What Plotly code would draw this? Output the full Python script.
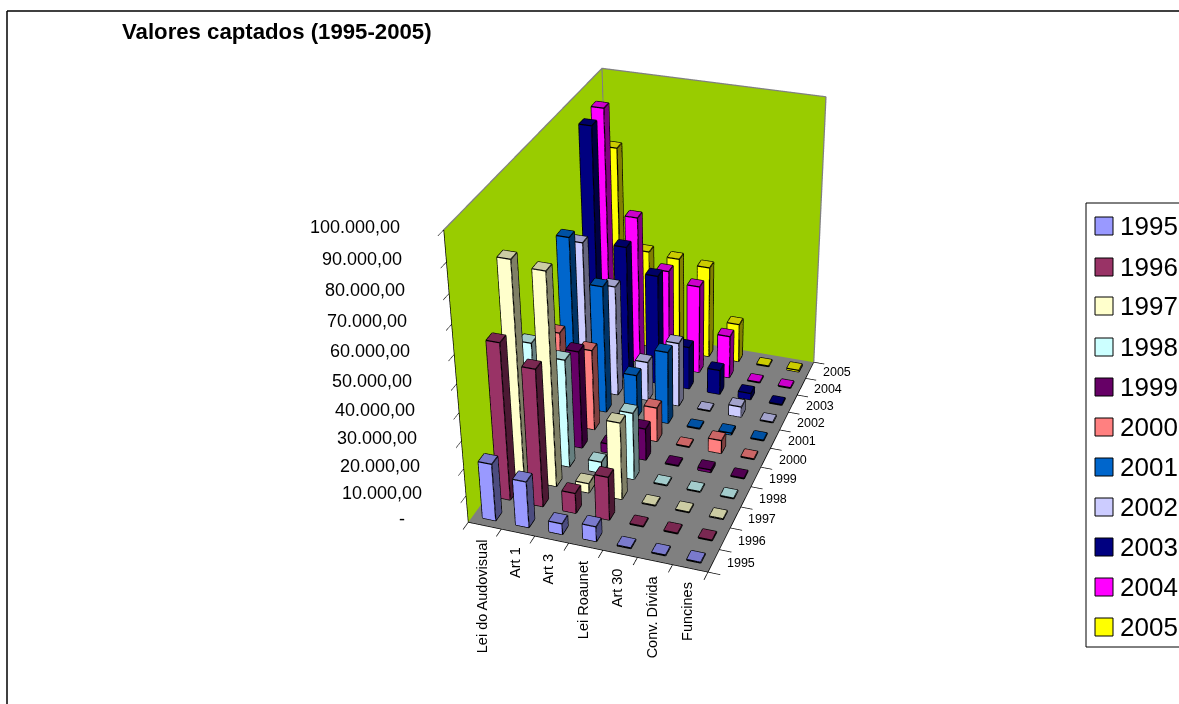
import plotly.graph_objects as go

categories = ["Lei do Audovisual", "Art 1", "Art 3", "Lei Roaunet", "Art 30", "Conv. Dívida", "Funcines"]
v1995 = [21000, 17000, 4000, 5500, 0, 0, 0]
v1996 = [57000, 50000, 7500, 16000, 0, 0, 0]
v1997 = [79000, 77000, 3500, 28500, 0, 0, 0]
v1998 = [44000, 40000, 4200, 25000, 0, 0, 0]
v1999 = [30000, 36500, 3500, 12000, 0, 1000, 0]
v2000 = [35000, 30500, 5000, 13000, 0, 5000, 0]
v2001 = [64000, 48000, 16500, 27500, 0, 700, 0]
v2002 = [56500, 42000, 15000, 24500, 0, 4000, 0]
v2003 = [93000, 51000, 42000, 16500, 9500, 2500, 0]
v2004 = [94500, 56500, 38000, 34000, 16500, 0, 0]
v2005 = [75500, 38000, 37000, 35500, 15000, 0, 600]
years = ["1995","1996","1997","1998","1999","2000","2001","2002","2003","2004","2005"]
colors = ["#9999FF","#993366","#FFFFCC","#CCFFFF","#660066","#FF8080","#0066CC","#CCCCFF","#000080","#FF00FF","#FFFF00"]
series = [v1995,v1996,v1997,v1998,v1999,v2000,v2001,v2002,v2003,v2004,v2005]
ztick_vals = [0,10000,20000,30000,40000,50000,60000,70000,80000,90000,100000]
ztick_text = ["-","10.000,00","20.000,00","30.000,00","40.000,00","50.000,00","60.000,00","70.000,00","80.000,00","90.000,00","100.000,00"]
legend_centres = [226,267,306,347,387,427,467,507,547,587,627]

W,H=1179,704
HF=2.0
L=int(H*HF); T=int(H*(HF-1)/2)
eye=(2.0180,-5.6660,3.4535); center=(0.1671,-0.0521,-0.1662); up=(-0.0095,-0.0032,1)
aspect=(1,1.6005,1.3059)
cx=686.3445
half=(W-cx)/W
dom_x=[cx/W-half,1]

BW=0.4
MINH=250
fig=go.Figure()
def shade(h,k):
    r_,g,b=[int(h[i:i+2],16) for i in (1,3,5)]
    return f"rgb({int(r_*k)},{int(g*k)},{int(b*k)})"
ex,ey,ez=[],[],[]
for yi,(name,vals,col) in enumerate(zip(years,series,colors)):
    X,Y,Z,I,J_,K,FC=[],[],[],[],[],[],[]
    for xi,v in enumerate(vals):
        h=max(v,MINH)
        x0,x1=xi+.5-BW/2,xi+.5+BW/2
        y0,y1=yi+.5-BW/2,yi+.5+BW/2
        n=len(X)
        X+=[x0,x1,x1,x0,x0,x1,x1,x0]
        Y+=[y0,y0,y1,y1,y0,y0,y1,y1]
        Z+=[0,0,0,0,h,h,h,h]
        faces=[((0,1,5),1),((0,5,4),1),((4,5,6),.8),((4,6,7),.8),((1,2,6),.5),((1,6,5),.5),((0,4,7),.5),((0,7,3),.5),((3,7,6),.6),((3,6,2),.6)]
        for (a,b,c_),k in faces:
            I.append(n+a);J_.append(n+b);K.append(n+c_);FC.append(shade(col,k))
        for a,b in [(0,1),(1,2),(4,5),(5,6),(6,7),(7,4),(0,4),(1,5),(2,6)]:
            ex+=[X[n+a],X[n+b],None];ey+=[Y[n+a],Y[n+b],None];ez+=[Z[n+a],Z[n+b],None]
    fig.add_trace(go.Mesh3d(x=X,y=Y,z=Z,i=I,j=J_,k=K,facecolor=FC,flatshading=True,name=name,hoverinfo="skip",
        lighting=dict(ambient=1,diffuse=0,specular=0,fresnel=0,roughness=1)))
fig.add_trace(go.Scatter3d(x=ex,y=ey,z=ez,mode="lines",line=dict(color="#000",width=2.5),hoverinfo="skip",showlegend=False))
fig.add_trace(go.Scatter3d(x=[0,0,7,7,None,0,0],y=[0,11,11,11,None,11,11],z=[100000,100000,100000,0,None,0,100000],mode="lines",line=dict(color="#808080",width=2.5),hoverinfo="skip",showlegend=False))

ax=dict(showgrid=False,zeroline=False,showspikes=False,title=dict(text=""),ticks="outside",ticklen=10,tickcolor="#000",tickwidth=1.5,showline=True,linecolor="#000",linewidth=1.5,showticklabels=False)
def py(y): return 1-(y+T)/L
def pline(x0,y0,x1,y1,col="#000",w=1):
    return dict(type="line",xref="paper",yref="paper",x0=x0/W,x1=x1/W,y0=py(y0),y1=py(y1),line=dict(color=col,width=w))
shapes=[pline(7,11,W,11,w=1.5),pline(7,11,7,H,w=1.5),pline(1086,203,W,203),pline(1086,647,W,647),pline(1086,203,1086,647)]
anns=[]
for y_,n_,c_ in zip(legend_centres,years,colors):
    shapes.append(dict(type="rect",xref="paper",yref="paper",x0=1095/W,x1=1113/W,y0=py(y_+9),y1=py(y_-9),fillcolor=c_,line=dict(color="#000",width=1)))
    anns.append(dict(text=n_,xref="paper",yref="paper",x=1120/W,y=py(y_),showarrow=False,xanchor="left",yanchor="middle",xshift=-2,font=dict(size=26,color="#000",family="Liberation Sans")))
sc=[]
for i,c_ in enumerate(categories):
    sc.append(dict(x=i+.5,y=0,z=0,text=c_,showarrow=False,textangle=-90,xanchor="center",yanchor="top",yshift=-12,xshift=-3,font=dict(size=14.5,color="#000",family="Liberation Sans")))
for i,y_ in enumerate(years):
    sc.append(dict(x=7,y=i+.5,z=0,text=y_,showarrow=False,xanchor="left",yanchor="middle",xshift=11,yshift=-2,font=dict(size=12.5,color="#000",family="Liberation Sans")))
for v,t in zip(ztick_vals,ztick_text):
    sc.append(dict(x=0,y=0,z=v,text=t,showarrow=False,xanchor="right",yanchor="middle",xshift=-42-(19 if v==0 else 0),yshift=3,font=dict(size=18,color="#000",family="Liberation Sans")))
fig.update_layout(width=W,height=L,margin=dict(l=0,r=0,t=0,b=0),paper_bgcolor="#fff",showlegend=False,
    title=dict(text="<b>Valores captados (1995-2005)</b>",x=122/W,xanchor="left",y=py(31),yanchor="middle",font=dict(size=22.2,color="#000",family="Liberation Sans")),
    font=dict(family="Liberation Sans",color="#000"),shapes=shapes,annotations=anns,
    scene=dict(domain=dict(x=dom_x,y=[0,1]),aspectmode="manual",aspectratio=dict(x=aspect[0],y=aspect[1],z=aspect[2]),annotations=sc,
      camera=dict(eye=dict(x=eye[0],y=eye[1],z=eye[2]),center=dict(x=center[0],y=center[1],z=center[2]),up=dict(x=up[0],y=up[1],z=up[2]),projection=dict(type="perspective")),
      xaxis=dict(ax,range=[0,7],tickvals=list(range(8)),showbackground=True,backgroundcolor="#99CC00"),
      yaxis=dict(ax,range=[0,11],tickvals=list(range(12)),showbackground=True,backgroundcolor="#99CC00"),
      zaxis=dict(ax,range=[0,100001],tickvals=ztick_vals,showbackground=True,backgroundcolor="#808080")))
fig.write_html("out.html",config=dict(displayModeBar=False),
    post_script=f"document.body.style.margin='-{T}px 0 0 0';document.documentElement.style.overflow='hidden';document.body.style.overflow='hidden';")
